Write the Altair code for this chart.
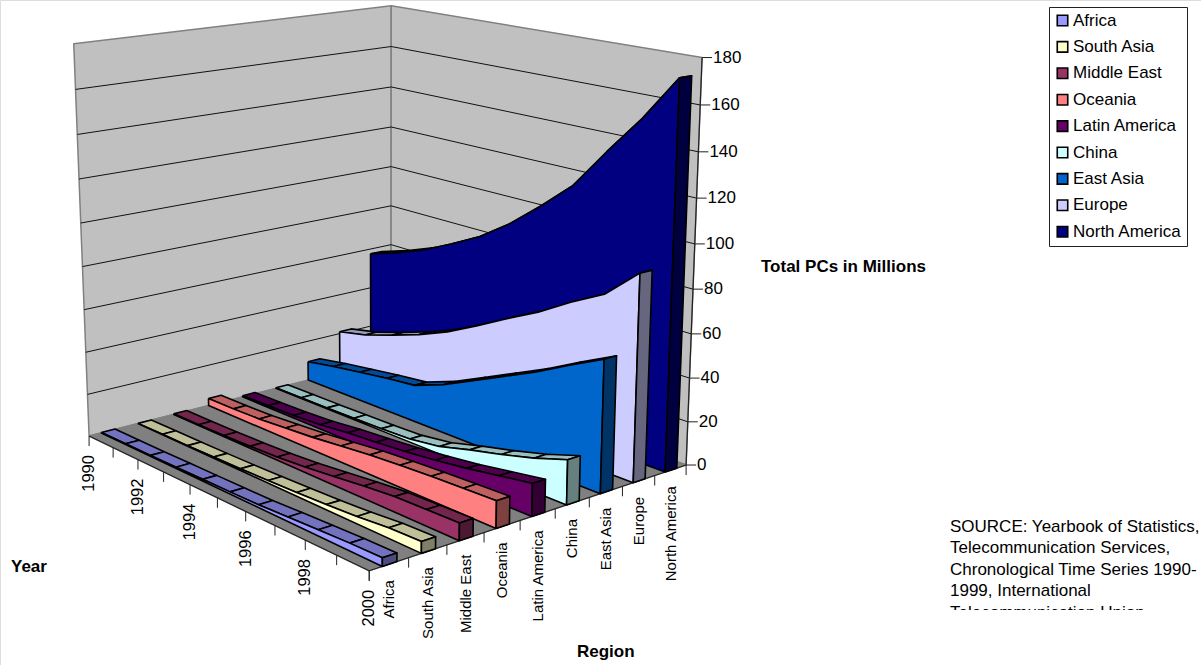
import altair as alt
import numpy as np
import pandas as pd

FONT = "Liberation Sans"

years = [1990, 1991, 1992, 1993, 1994, 1995, 1996, 1997, 1998, 1999, 2000]
regions = ["Africa", "South Asia", "Middle East", "Oceania", "Latin America",
           "China", "East Asia", "Europe", "North America"]
colors = ["#9999FF", "#FFFFCC", "#993366", "#FF8080", "#660066",
          "#CCFFFF", "#0066CC", "#CCCCFF", "#000080"]

# Total PCs in millions, one list per region
africa = [0.2, 0.3, 0.4, 0.6, 0.8, 1.0, 1.3, 2.0, 2.7, 3.3, 3.6]
south_asia = [0.1, 0.2, 0.3, 0.5, 0.8, 1.2, 1.7, 2.3, 3.2, 4.5, 5.0]
middle_east = [0.3, 0.3, 0.5, 0.9, 1.5, 2.5, 4.0, 5.5, 6.8, 7.2, 7.6]
oceania = [3.5, 3.6, 4.0, 5.0, 6.0, 7.5, 9.0, 10.0, 10.8, 11.4, 12.0]
latin_america = [0.6, 0.8, 1.2, 2.0, 3.6, 4.6, 5.8, 7.5, 9.5, 12.0, 14.5]
china = [0.3, 0.4, 0.5, 0.7, 1.0, 1.5, 3.5, 7.5, 11.0, 15.0, 20.0]
east_asia = [9.5, 12, 14, 16, 17.6, 23, 30, 37, 44, 52, 59.5]
europe = [21, 24, 28.5, 33.5, 39.5, 47, 55, 62.5, 71.5, 79.5, 93]
north_america = [57.5, 62, 67.5, 74.5, 82, 92, 104, 117, 135.5, 153, 173]
series = [africa, south_asia, middle_east, oceania, latin_america,
          china, east_asia, europe, north_america]

value_ticks = [0, 20, 40, 60, 80, 100, 120, 140, 160, 180]
year_labels = [1990, 1992, 1994, 1996, 1998, 2000]
source_lines = ["SOURCE: Yearbook of Statistics,", "Telecommunication Services,",
                "Chronological Time Series 1990-", "1999,  International",
                "Telecommunication Union"]

W, H = 1201, 665
VMAX = 180.0
RIBBON_LO, RIBBON_HI = 0.33, 0.70

# Camera: a 3x4 perspective matrix solved from where the box corners and a few
# axis stops sit on the canvas. u runs along years, v along regions, w up.
anchors = [
    (0, 0, 0, 89, 435), (1, 0, 0, 368, 572), (1, 1, 0, 686, 464), (0, 1, 0, 391, 360),
    (0, 0, 1, 74, 44), (1, 1, 1, 702, 58), (0, 1, 1, 391, 5),
    (0.5, 0, 0, 218, 498), (1, 5 / 9, 0, 556, 508),
    (0, 1, 1 / 3, 391, 245), (1, 1, 5 / 9, 695, 244),
]
A, b = [], []
for u, v, w, px, py in anchors:
    A.append([u, v, w, 1, 0, 0, 0, 0, -px * u, -px * v, -px * w])
    A.append([0, 0, 0, 0, u, v, w, 1, -py * u, -py * v, -py * w])
    b += [px, py]
m = np.linalg.lstsq(np.array(A, float), np.array(b, float), rcond=None)[0]


def project(u, v, w):
    d = m[8] * u + m[9] * v + m[10] * w + 1
    return ((m[0] * u + m[1] * v + m[2] * w + m[3]) / d,
            (m[4] * u + m[5] * v + m[6] * w + m[7]) / d)


def shade(hex_color, k):
    r, g, b_ = (int(hex_color[i:i + 2], 16) for i in (1, 3, 5))
    return "#%02x%02x%02x" % (int(r * k), int(g * k), int(b_ * k))


def polygon_rows(points, fill, pid):
    closed = list(points) + [points[0]]
    return [{"x": project(*p)[0], "y": project(*p)[1], "pid": pid, "seq": i, "fill": fill}
            for i, p in enumerate(closed)]


def segment_rows(p, q, pid):
    return [{"x": project(*p)[0], "y": project(*p)[1], "pid": pid, "seq": 0},
            {"x": project(*q)[0], "y": project(*q)[1], "pid": pid, "seq": 1}]


x_scale = alt.Scale(domain=[0, W], range=[0, W], nice=False, zero=False)
y_scale = alt.Scale(domain=[0, H], range=[0, H], nice=False, zero=False)
X = alt.X("x:Q", scale=x_scale, axis=None)
Y = alt.Y("y:Q", scale=y_scale, axis=None)


def polygons(rows, stroke, width):
    return alt.Chart(pd.DataFrame(rows)).mark_line(
        stroke=stroke, strokeWidth=width, strokeJoin="round", clip=False
    ).encode(x=X, y=Y, detail="pid:N", order="seq:Q", fill=alt.Fill("fill:N", scale=None))


def lines(rows, color, width):
    return alt.Chart(pd.DataFrame(rows)).mark_line(color=color, strokeWidth=width).encode(
        x=X, y=Y, detail="pid:N", order="seq:Q")


# Walls and floor of the box
box_rows = (polygon_rows([(0, 0, 0), (0, 1, 0), (0, 1, 1), (0, 0, 1)], "#C0C0C0", "wall-left")
            + polygon_rows([(0, 1, 0), (1, 1, 0), (1, 1, 1), (0, 1, 1)], "#C0C0C0", "wall-right")
            + polygon_rows([(0, 0, 0), (1, 0, 0), (1, 1, 0), (0, 1, 0)], "#808080", "floor"))

grid_rows = []
for t in value_ticks[1:-1]:
    w = t / VMAX
    grid_rows += segment_rows((0, 0, w), (0, 1, w), f"gl{t}")
    grid_rows += segment_rows((0, 1, w), (1, 1, w), f"gr{t}")

# Ribbons: far regions first so nearer ones paint over them
ribbon_rows = []
for i in reversed(range(len(regions))):
    vals, col = series[i], colors[i]
    lo, hi = (i + RIBBON_LO) / 9, (i + RIBBON_HI) / 9
    us = [k / (len(years) - 1) for k in range(len(years))]
    for k in range(len(years) - 1):
        w0, w1 = vals[k] / VMAX, vals[k + 1] / VMAX
        ribbon_rows += polygon_rows(
            [(us[k], lo, w0), (us[k + 1], lo, w1), (us[k + 1], hi, w1), (us[k], hi, w0)],
            shade(col, 0.75), f"{i:02d}top{k:02d}")
    face = [(us[k], lo, vals[k] / VMAX) for k in range(len(years))]
    face += [(1, lo, 0), (0, lo, 0)]
    ribbon_rows += polygon_rows(face, col, f"{i:02d}zface")
    end = vals[-1] / VMAX
    ribbon_rows += polygon_rows([(1, lo, 0), (1, hi, 0), (1, hi, end), (1, lo, end)],
                                shade(col, 0.5), f"{i:02d}zzend")

# Axis lines and tick marks
axis_rows = segment_rows((0, 0, 0), (1, 0, 0), "year-axis")
axis_rows += segment_rows((1, 0, 0), (1, 1, 0), "region-axis")
axis_rows += segment_rows((1, 1, 0), (1, 1, 1), "value-axis")
TICK = 10
tick_rows = []


def tick(px, py, qx, qy, pid):
    tick_rows.extend([{"x": px, "y": py, "pid": pid, "seq": 0},
                      {"x": qx, "y": qy, "pid": pid, "seq": 1}])


year_text_rows = []
for k, yr in enumerate(years):
    px, py = project(k / (len(years) - 1), 0, 0)
    tick(px, py, px, py + TICK, f"ty{yr}")
    if yr in year_labels:
        year_text_rows.append({"x": px, "y": py + TICK + 9, "t": str(yr)})
region_text_rows = []
for i in range(len(regions) + 1):
    px, py = project(1, i / 9, 0)
    tick(px, py, px, py + TICK, f"tr{i}")
for i, name in enumerate(regions):
    px, py = project(1, (i + 0.5) / 9, 0)
    region_text_rows.append({"x": px, "y": py + 16, "t": name})

value_rows = []
for t in value_ticks:
    px, py = project(1, 1, t / VMAX)
    tick(px, py, px + 10, py, f"tv{t}")
    value_rows.append({"x": px + 11, "y": py, "t": str(t)})

year_text = alt.Chart(pd.DataFrame(year_text_rows)).mark_text(
    angle=270, align="right", baseline="middle", font=FONT, fontSize=16.5, color="black"
).encode(x=X, y=Y, text="t:N")

region_text = alt.Chart(pd.DataFrame(region_text_rows)).mark_text(
    angle=270, align="right", baseline="middle", font=FONT, fontSize=15, color="black"
).encode(x=X, y=Y, text="t:N")

value_text = alt.Chart(pd.DataFrame(value_rows)).mark_text(
    align="left", baseline="middle", font=FONT, fontSize=17, color="black"
).encode(x=X, y=Y, text="t:N")

title_rows = [{"x": 761, "y": 272, "t": "Total PCs in Millions"},
              {"x": 11, "y": 572, "t": "Year"},
              {"x": 577, "y": 657, "t": "Region"}]
titles = alt.Chart(pd.DataFrame(title_rows)).mark_text(
    align="left", baseline="alphabetic", font=FONT, fontSize=17, fontWeight="bold", color="black"
).encode(x=X, y=Y, text="t:N")

# Source note, cut off by its frame after the fourth line
note_rows = [{"x": 950, "y": 532 + round(21.4 * n), "t": s} for n, s in enumerate(source_lines)]
note = alt.Chart(pd.DataFrame(note_rows)).mark_text(
    align="left", baseline="alphabetic", font=FONT, fontSize=17, color="black"
).encode(x=X, y=Y, text="t:N")
note_frame = alt.Chart(pd.DataFrame([{"x": 940, "x2": W, "y": 610, "y2": 630}])).mark_rect(
    color="white").encode(x=X, x2="x2:Q", y=Y, y2="y2:Q")

# Region key: an off-canvas point layer feeds the legend
key = alt.Chart(pd.DataFrame({"Region": regions})).mark_square(size=1, opacity=1).encode(
    x=alt.value(-20), y=alt.value(-20),
    color=alt.Color("Region:N", sort=regions,
                    scale=alt.Scale(domain=regions, range=colors),
                    legend=alt.Legend(
                        title=None, orient="none", legendX=1049, legendY=7,
                        symbolType="square", symbolSize=110, symbolStrokeColor="black",
                        symbolStrokeWidth=1.6, symbolOpacity=1,
                        labelFont=FONT, labelFontSize=17, labelColor="black", labelLimit=200,
                        labelOffset=2, rowPadding=8.4, padding=5, strokeColor="#222222",
                        fillColor="white", values=regions)))

chart = alt.layer(
    polygons(box_rows, "#808080", 1.5),
    lines(grid_rows, "#111111", 1),
    lines(axis_rows, "#222222", 1.2),
    lines(tick_rows, "#222222", 1),
    polygons(ribbon_rows, "black", 1.6),
    year_text, region_text, value_text, titles, note, note_frame, key,
).properties(width=W, height=H, padding=0, autosize=alt.AutoSizeParams(type="none")
).configure_view(stroke=None).configure(background="white")

chart.save("out.html", embed_options={"renderer": "svg", "actions": False})
